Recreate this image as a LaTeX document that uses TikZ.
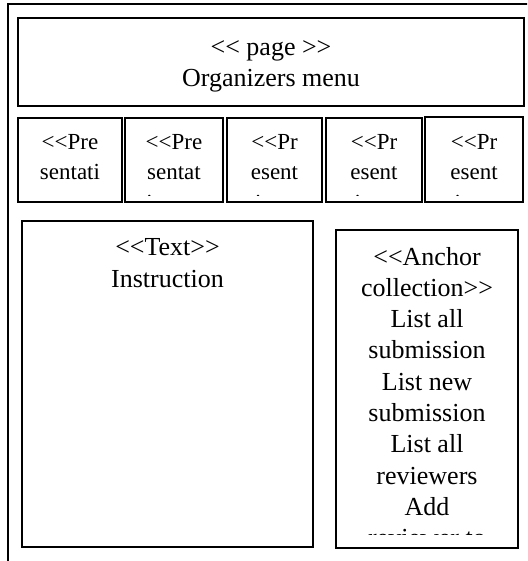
\documentclass[tikz,border=0pt]{standalone}
\usepackage{fontspec}
\setmainfont{Liberation Serif}[Ligatures=TeXOff]
\tikzset{
    box/.style={draw, line width=1.4pt, inner sep=0pt},
    boxtext/.style={align=center, inner sep=0pt, anchor=base,
        font=\fontsize{26}{31.3}\selectfont},
    smalltext/.style={boxtext, font=\fontsize{23}{30}\selectfont}
}
\begin{document}
\begin{tikzpicture}[x=1pt, y=-1pt]
            \useasboundingbox (0,0) rectangle (527,561);
            \clip (0,0) rectangle (527,561);

            % page frame
            \draw[line width=1.4pt] (8,575) -- (8,4) -- (545,4);

            % menu
            \node[box, minimum width=506pt, minimum height=88pt] (menu) at (271,62) {};
            \begin{scope}
                \clip (menu.south west) rectangle (menu.north east);
                \node[boxtext] (menutext) at (271,87) {<< page >>\\Organizers menu};
            \end{scope}

            % presentations (text base = last line)
            \foreach \i/\x/\y/\w/\h/\t in {1/70/160/104/84/{<<Pre\\sentati\\on>>},
                                     2/174/160/98/84/{<<Pre\\sentat\\ion>>},
                                     3/274.5/160/95/84/{<<Pr\\esent\\ation>>},
                                     4/374/160/96/84/{<<Pr\\esent\\ation>>},
                                     5/474/159.5/98/85/{<<Pr\\esent\\ation>>}}{
                \node[box, minimum width=\w pt, minimum height=\h pt] (p\i) at (\x,\y) {};
                \begin{scope}
                    \clip ([yshift=7pt]p\i.south west) rectangle (p\i.north east);
                    \node[smalltext] (pt\i) at (\x,210) {\t};
                \end{scope}
            }

            % instruction text
            \node[box, minimum width=291pt, minimum height=326pt] (instr) at (167.5,384) {};
            \node[boxtext] (instrtext) at (167.5,287) {<<Text>>\\Instruction};

            % anchors
            \node[box, minimum width=182pt, minimum height=318pt] (anchors) at (427,389) {};
            \begin{scope}
                \clip ([yshift=14pt]anchors.south west) rectangle (anchors.north east);
                \node[boxtext] (anchortext) at (427,546.7) {<<Anchor\\collection>>\\List all\\submission\\List new\\submission\\List all\\reviewers\\Add\\reviewer to};
            \end{scope}

        \end{tikzpicture}
\end{document}
